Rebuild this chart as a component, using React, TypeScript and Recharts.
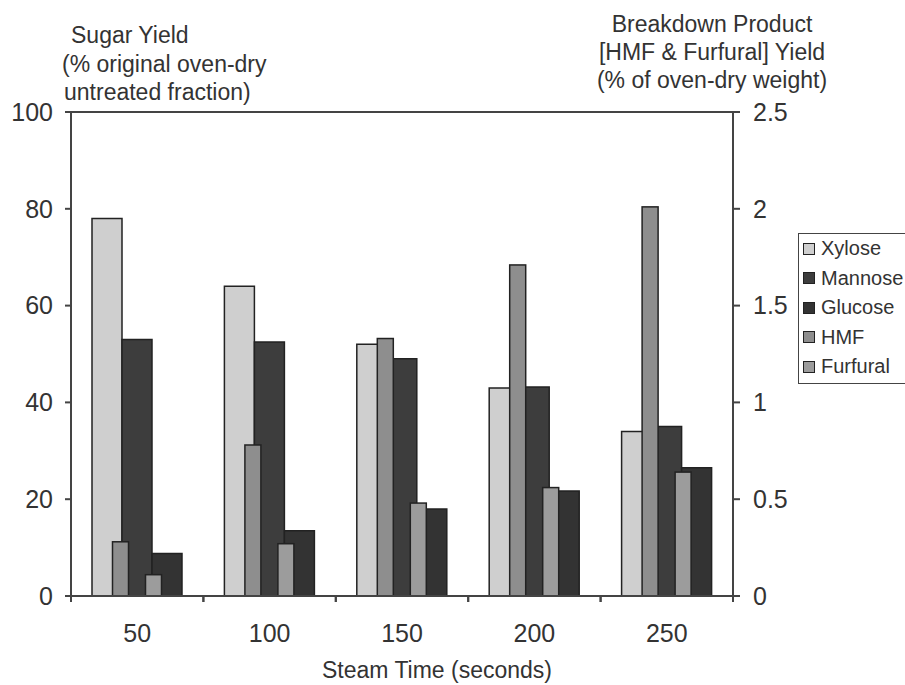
import React from "react"
import { BarChart, Bar, XAxis, YAxis, ReferenceLine } from "recharts"

// Steam explosion series
const steamTimes = ["50", "100", "150", "200", "250"]
const xylose = [78, 64, 52, 43, 34]
const mannose = [53, 52.5, 49, 43.2, 35]
const glucose = [8.8, 13.5, 18, 21.7, 26.5]
const hmf = [0.28, 0.78, 1.33, 1.71, 2.01]
const furfural = [0.11, 0.27, 0.48, 0.56, 0.64]

const sugarTicks = [0, 20, 40, 60, 80, 100]
const breakdownTicks = [0, 0.5, 1, 1.5, 2, 2.5]

const legendItems = [
  { name: "Xylose", color: "#cfcfcf" },
  { name: "Mannose", color: "#3d3d3d" },
  { name: "Glucose", color: "#333333" },
  { name: "HMF", color: "#8e8e8e" },
  { name: "Furfural", color: "#9c9c9c" },
]

const CHART_W = 905
const CHART_H = 685
const LEFT_W = 71
const RIGHT_W = 172
const BAND = (CHART_W - LEFT_W - RIGHT_W) / steamTimes.length
const INK = "#333"
const FONT = '"Liberation Sans", Arial, sans-serif'

const rows = steamTimes.map((time, i) => ({
  time,
  xylose: xylose[i],
  mannose: mannose[i],
  glucose: glucose[i],
  hmf: hmf[i],
  furfural: furfural[i],
}))

// category label plus the boundary tick marks Excel draws between groups
function CategoryTick(props: any) {
  const { x, y, payload } = props
  const half = BAND / 2
  return (
    <g>
      <line x1={x - half} x2={x - half} y1={y} y2={y + 6} stroke="#444" strokeWidth={2} />
      <line x1={x + half} x2={x + half} y1={y} y2={y + 6} stroke="#444" strokeWidth={2} />
      <text x={x} y={y + 46} textAnchor="middle" fontSize={25} fill={INK}>
        {payload.value}
      </text>
    </g>
  )
}

// breakdown bars are drawn narrow inside their slot
function NarrowBar(props: any) {
  const { x, y, width, height, fill } = props
  const w = 16
  if (!height) return null
  return <rect x={x + (width - w) / 2} y={y} width={w} height={height} fill={fill} stroke="#222" strokeWidth={1.5} />
}

export default function App() {
  return (
    <div style={{ position: "absolute", left: 0, top: 0, width: CHART_W, height: CHART_H, background: "#fff", fontFamily: FONT, color: INK }}>
      <BarChart width={CHART_W} height={CHART_H} data={rows} margin={{ top: 112, right: 0, bottom: 0, left: 0 }} barGap={0}>
        <XAxis
          xAxisId="sugar"
          dataKey="time"
          height={89}
          interval={0}
          axisLine={{ stroke: "#444", strokeWidth: 2 }}
          tickLine={false}
          tickSize={0}
          tickMargin={0}
          tick={<CategoryTick />}
        />
        <XAxis xAxisId="breakdown" dataKey="time" height={0} hide />
        <YAxis
          yAxisId="left"
          domain={[0, 100]}
          ticks={sugarTicks}
          width={LEFT_W}
          axisLine={{ stroke: "#444", strokeWidth: 2 }}
          tickLine={{ stroke: "#444", strokeWidth: 2 }}
          tickSize={6}
          tickMargin={12}
          tick={{ fontSize: 25, fill: INK }}
        />
        <YAxis
          yAxisId="right"
          orientation="right"
          domain={[0, 2.5]}
          ticks={breakdownTicks}
          width={RIGHT_W}
          axisLine={{ stroke: "#444", strokeWidth: 2 }}
          tickLine={{ stroke: "#444", strokeWidth: 2 }}
          tickSize={7}
          tickMargin={13}
          tick={{ fontSize: 25, fill: INK }}
        />
        <ReferenceLine yAxisId="left" xAxisId="sugar" y={100} stroke="#444" strokeWidth={2} />
        <Bar xAxisId="sugar" yAxisId="left" dataKey="xylose" barSize={30} fill="#cfcfcf" stroke="#222" strokeWidth={1.5} isAnimationActive={false} />
        <Bar xAxisId="sugar" yAxisId="left" dataKey="mannose" barSize={30} fill="#3d3d3d" stroke="#222" strokeWidth={1.5} isAnimationActive={false} />
        <Bar xAxisId="sugar" yAxisId="left" dataKey="glucose" barSize={30} fill="#333333" stroke="#222" strokeWidth={1.5} isAnimationActive={false} />
        <Bar xAxisId="breakdown" yAxisId="right" dataKey="hmf" barSize={33} fill="#8e8e8e" shape={<NarrowBar />} isAnimationActive={false} />
        <Bar xAxisId="breakdown" yAxisId="right" dataKey="furfural" barSize={33} fill="#9c9c9c" shape={<NarrowBar />} isAnimationActive={false} />
      </BarChart>

      {/* axis titles */}
      <div style={{ position: "absolute", left: 0, top: 21, fontSize: 23, lineHeight: "28.5px", whiteSpace: "pre" }}>
        <div style={{ marginLeft: 71 }}>Sugar Yield</div>
        <div style={{ marginLeft: 62 }}>(% original oven-dry</div>
        <div style={{ marginLeft: 64 }}>untreated fraction)</div>
      </div>
      <div style={{ position: "absolute", left: 572, width: 280, top: 10, fontSize: 23, lineHeight: "28px", textAlign: "center", whiteSpace: "pre" }}>
        <div>Breakdown Product</div>
        <div>[HMF &amp; Furfural] Yield</div>
        <div>(% of oven-dry weight)</div>
      </div>
      <div style={{ position: "absolute", left: 287, width: 300, top: 656, fontSize: 23, lineHeight: "28px", textAlign: "center" }}>
        Steam Time (seconds)
      </div>

      {/* legend */}
      <div style={{ position: "absolute", left: 798, top: 233, width: 125, height: 151, border: "1.5px solid #444", boxSizing: "border-box", fontSize: 20 }}>
        {legendItems.map((item) => (
          <div key={item.name} style={{ display: "flex", alignItems: "center", height: 29.5 }}>
            <span style={{ display: "inline-block", width: 10, height: 10, marginLeft: 4, marginRight: 6, background: item.color, border: "1px solid #222" }} />
            <span>{item.name}</span>
          </div>
        ))}
      </div>
    </div>
  )
}
